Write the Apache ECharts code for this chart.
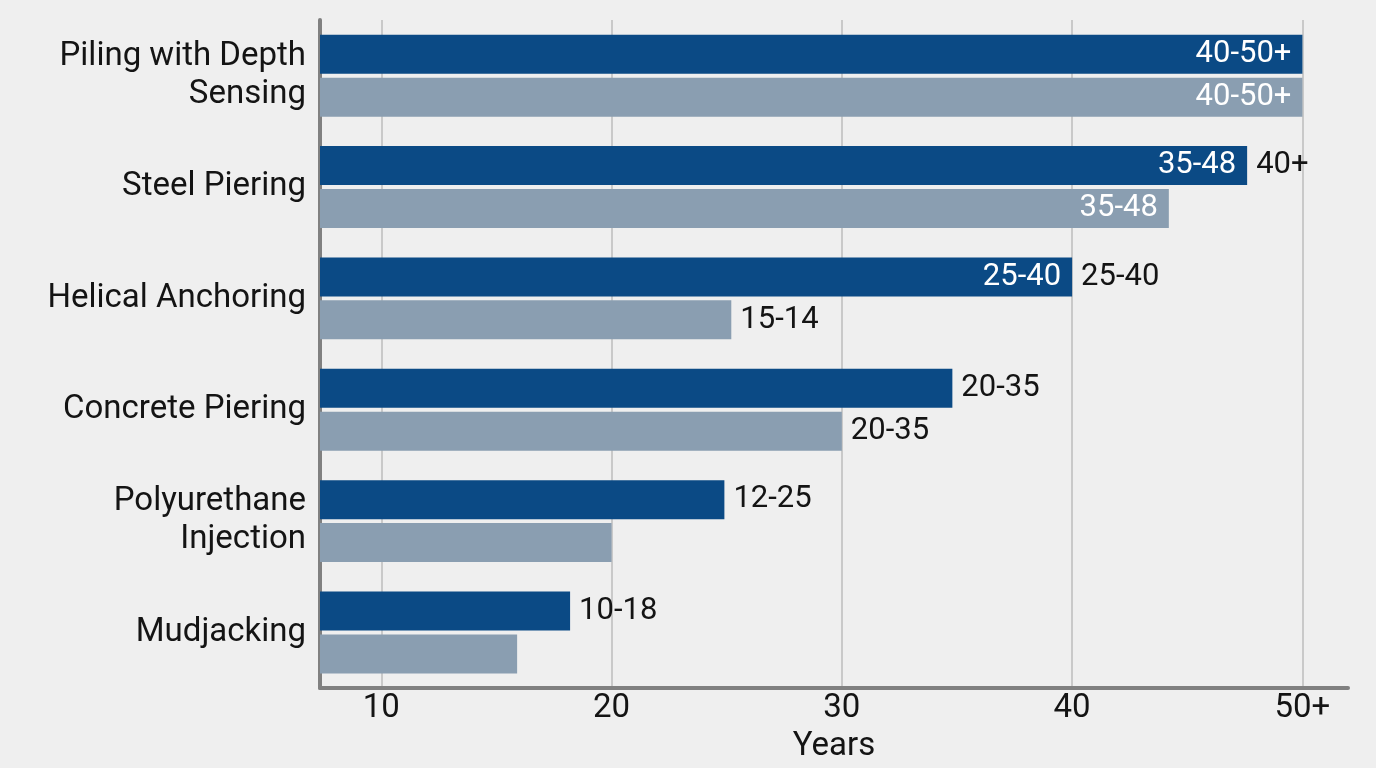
<!DOCTYPE html>
<html>
<head>
<meta charset="utf-8">
<script src="https://cdn.jsdelivr.net/npm/echarts@6/dist/echarts.min.js"></script>
<style>
    html, body { margin: 0; padding: 0; background: #efefef; }
    #chart { width: 1376px; height: 768px; }
</style>
</head>
<body>
<div id="chart"></div>
<script>
var categories = ['Piling with Depth\nSensing', 'Steel Piering', 'Helical Anchoring', 'Concrete Piering', 'Polyurethane\nInjection', 'Mudjacking'];
var upperYears = [50, 47.6, 40, 34.8, 24.9, 18.2];
var lowerYears = [50, 44.2, 25.2, 30, 20, 15.9];
var upperInside = ['40-50+', '35-48', '25-40', '', '', ''];
var upperOutside = ['', '40+', '25-40', '20-35', '12-25', '10-18'];
var lowerInside = ['40-50+', '35-48', '', '', '', ''];
var lowerOutside = ['', '', '15-14', '20-35', '', ''];
var xTicks = [10, 20, 30, 40, 50];
var xTickLabels = ['10', '20', '30', '40', '50+'];

var darkBlue = '#0b4a85';
var greyBlue = '#8a9eb1';
var fontName = 'Roboto';

function barSeries(name, data, color, labels, axis, pos) {
    return {
        name: name,
        type: 'bar',
        yAxisIndex: axis,
        data: data,
        barWidth: 39,
        barGap: '10%',
        silent: axis === 1,
        itemStyle: {color: color},
        label: {
            show: true,
            position: pos,
            distance: pos === 'right' ? 9 : 11,
            fontFamily: fontName,
            fontSize: 31,
            color: pos === 'right' ? '#141414' : '#ffffff',
            formatter: function (p) {
                return labels[p.dataIndex];
            }
        }
    };
}

var myChart = echarts.init(document.getElementById('chart'));
myChart.setOption({
    backgroundColor: '#efefef',
    animation: false,
    grid: {left: 320, right: 28, top: 20, bottom: 73},
    xAxis: {
        type: 'value',
        min: 7.34,
        max: 51.98,
        name: 'Years',
        nameLocation: 'middle',
        nameGap: 37,
        nameTextStyle: {fontFamily: fontName, fontSize: 33, color: '#141414'},
        axisLine: {show: true, lineStyle: {color: '#808080', width: 4}},
        axisTick: {show: false, customValues: xTicks},
        axisLabel: {
            customValues: xTicks,
            margin: 4,
            fontFamily: fontName,
            fontSize: 33,
            color: '#141414',
            formatter: function (v) {
                return xTickLabels[xTicks.indexOf(v)];
            }
        },
        splitLine: {show: true, lineStyle: {color: '#bdbdbd', width: 1.5}}
    },
    yAxis: [{
            type: 'category',
            inverse: true,
            data: categories,
            axisLine: {show: true, lineStyle: {color: '#808080', width: 4}},
            axisTick: {show: false},
            axisLabel: {
                margin: 14,
                fontFamily: fontName,
                fontSize: 33,
                lineHeight: 38,
                color: '#141414'
            }
        }, {
            type: 'category',
            inverse: true,
            show: false,
            data: categories
        }],
    series: [
        barSeries('Upper range', upperYears, darkBlue, upperInside, 0, 'insideRight'),
        barSeries('Lower range', lowerYears, greyBlue, lowerInside, 0, 'insideRight'),
        barSeries('Upper range note', upperYears, 'transparent', upperOutside, 1, 'right'),
        barSeries('Lower range note', lowerYears, 'transparent', lowerOutside, 1, 'right')
    ]
});
</script>
</body>
</html>
